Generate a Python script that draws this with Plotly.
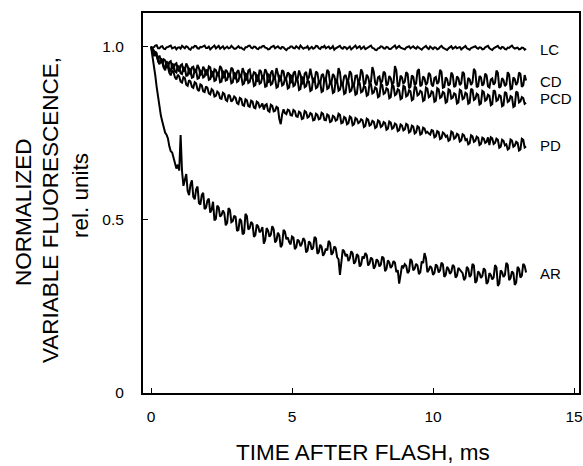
import plotly.graph_objects as go

# ---------------- data ----------------
TIME_MS = [
    0.00, 0.05, 0.10, 0.15, 0.20, 0.25, 0.30, 0.35, 0.40, 0.45, 0.50, 0.55, 0.60, 0.65, 0.70, 0.75, 0.80, 0.85, 0.90, 0.95,
    1.00, 1.05, 1.10, 1.15, 1.20, 1.25, 1.30, 1.35, 1.40, 1.45, 1.50, 1.55, 1.60, 1.65, 1.70, 1.75, 1.80, 1.85, 1.90, 1.95,
    2.00, 2.05, 2.10, 2.15, 2.20, 2.25, 2.30, 2.35, 2.40, 2.45, 2.50, 2.55, 2.60, 2.65, 2.70, 2.75, 2.80, 2.85, 2.90, 2.95,
    3.00, 3.05, 3.10, 3.15, 3.20, 3.25, 3.30, 3.35, 3.40, 3.45, 3.50, 3.55, 3.60, 3.65, 3.70, 3.75, 3.80, 3.85, 3.90, 3.95,
    4.00, 4.05, 4.10, 4.15, 4.20, 4.25, 4.30, 4.35, 4.40, 4.45, 4.50, 4.55, 4.60, 4.65, 4.70, 4.75, 4.80, 4.85, 4.90, 4.95,
    5.00, 5.05, 5.10, 5.15, 5.20, 5.25, 5.30, 5.35, 5.40, 5.45, 5.50, 5.55, 5.60, 5.65, 5.70, 5.75, 5.80, 5.85, 5.90, 5.95,
    6.00, 6.05, 6.10, 6.15, 6.20, 6.25, 6.30, 6.35, 6.40, 6.45, 6.50, 6.55, 6.60, 6.65, 6.70, 6.75, 6.80, 6.85, 6.90, 6.95,
    7.00, 7.05, 7.10, 7.15, 7.20, 7.25, 7.30, 7.35, 7.40, 7.45, 7.50, 7.55, 7.60, 7.65, 7.70, 7.75, 7.80, 7.85, 7.90, 7.95,
    8.00, 8.05, 8.10, 8.15, 8.20, 8.25, 8.30, 8.35, 8.40, 8.45, 8.50, 8.55, 8.60, 8.65, 8.70, 8.75, 8.80, 8.85, 8.90, 8.95,
    9.00, 9.05, 9.10, 9.15, 9.20, 9.25, 9.30, 9.35, 9.40, 9.45, 9.50, 9.55, 9.60, 9.65, 9.70, 9.75, 9.80, 9.85, 9.90, 9.95,
    10.00, 10.05, 10.10, 10.15, 10.20, 10.25, 10.30, 10.35, 10.40, 10.45, 10.50, 10.55, 10.60, 10.65, 10.70, 10.75, 10.80, 10.85, 10.90, 10.95,
    11.00, 11.05, 11.10, 11.15, 11.20, 11.25, 11.30, 11.35, 11.40, 11.45, 11.50, 11.55, 11.60, 11.65, 11.70, 11.75, 11.80, 11.85, 11.90, 11.95,
    12.00, 12.05, 12.10, 12.15, 12.20, 12.25, 12.30, 12.35, 12.40, 12.45, 12.50, 12.55, 12.60, 12.65, 12.70, 12.75, 12.80, 12.85, 12.90, 12.95,
    13.00, 13.05, 13.10, 13.15, 13.20, 13.25, 13.30,
]

LC = [
    1.000, 0.996, 0.998, 1.003, 1.004, 0.995, 0.995, 1.000, 1.001, 0.994, 0.993, 0.998, 0.999, 1.002, 1.003, 0.995, 0.996, 0.999, 0.992, 0.997,
    0.998, 0.994, 1.002, 0.997, 0.995, 1.001, 0.999, 0.993, 0.991, 0.998, 0.997, 1.002, 1.001, 0.995, 0.994, 0.999, 0.998, 1.001, 1.003, 0.996,
    0.996, 1.000, 0.992, 0.996, 0.999, 1.003, 0.995, 0.998, 1.002, 0.994, 0.997, 1.001, 0.993, 0.997, 1.000, 0.995, 0.996, 1.002, 0.999, 0.994,
    0.994, 0.999, 1.001, 0.996, 0.997, 0.993, 0.991, 0.998, 0.998, 1.002, 1.003, 0.997, 0.995, 1.000, 0.999, 0.994, 0.993, 0.998, 0.997, 1.001,
    1.002, 0.997, 0.996, 0.992, 0.993, 0.998, 0.999, 1.002, 0.995, 0.999, 1.001, 0.996, 0.994, 0.999, 0.998, 0.993, 0.990, 0.995, 0.996, 1.000,
    1.000, 0.996, 0.995, 1.001, 0.998, 0.994, 1.003, 0.999, 0.994, 0.997, 0.997, 1.001, 0.992, 0.996, 0.999, 0.994, 0.996, 1.002, 1.001, 0.995,
    0.993, 0.999, 0.998, 1.002, 0.995, 0.998, 1.000, 0.994, 0.996, 1.001, 0.991, 0.995, 0.997, 0.999, 1.002, 0.996, 0.994, 0.999, 0.998, 0.993,
    0.996, 1.000, 0.992, 0.995, 0.999, 1.003, 0.995, 0.997, 1.001, 0.993, 0.997, 1.000, 0.993, 0.996, 0.998, 1.002, 1.003, 0.996, 0.995, 0.991,
    0.990, 0.995, 0.996, 1.001, 1.000, 0.995, 0.994, 0.999, 0.998, 0.993, 0.993, 0.997, 0.999, 1.003, 0.995, 0.999, 1.002, 0.997, 0.996, 0.993,
    0.992, 0.997, 0.998, 1.001, 0.995, 0.999, 1.001, 0.996, 0.994, 1.000, 0.997, 0.993, 0.991, 0.996, 0.999, 1.002, 0.996, 0.993, 1.000, 0.997,
    0.993, 0.998, 0.997, 0.992, 0.994, 0.999, 1.002, 0.997, 0.995, 0.992, 0.990, 0.995, 0.998, 1.001, 0.994, 0.997, 1.000, 0.995, 0.996, 0.999,
    0.992, 0.996, 0.999, 1.002, 0.995, 0.992, 0.991, 0.996, 0.998, 1.000, 1.001, 0.996, 0.994, 0.998, 0.997, 0.992, 0.993, 0.998, 0.999, 1.002,
    0.995, 0.991, 0.990, 0.995, 0.997, 1.001, 1.002, 0.996, 0.994, 0.999, 0.998, 0.993, 0.992, 0.997, 0.996, 1.000, 1.003, 0.997, 0.994, 0.996,
    0.997, 0.992, 0.993, 0.997, 0.996, 0.991, 0.994,
]

CD = [
    1.000, 0.994, 0.989, 0.978, 0.971, 0.966, 0.974, 0.958, 0.952, 0.963, 0.960, 0.944, 0.941, 0.955, 0.958, 0.939, 0.935, 0.949, 0.952, 0.933,
    0.929, 0.946, 0.949, 0.928, 0.932, 0.951, 0.943, 0.924, 0.921, 0.940, 0.942, 0.926, 0.929, 0.947, 0.938, 0.918, 0.921, 0.942, 0.935, 0.917,
    0.924, 0.943, 0.940, 0.913, 0.916, 0.935, 0.932, 0.917, 0.921, 0.944, 0.937, 0.910, 0.912, 0.933, 0.928, 0.914, 0.918, 0.939, 0.935, 0.909,
    0.908, 0.927, 0.932, 0.912, 0.916, 0.938, 0.926, 0.903, 0.906, 0.931, 0.934, 0.911, 0.913, 0.926, 0.924, 0.899, 0.903, 0.933, 0.928, 0.907,
    0.914, 0.935, 0.926, 0.897, 0.899, 0.924, 0.931, 0.908, 0.911, 0.938, 0.922, 0.901, 0.904, 0.932, 0.928, 0.903, 0.909, 0.925, 0.921, 0.896,
    0.898, 0.923, 0.929, 0.905, 0.907, 0.931, 0.919, 0.892, 0.895, 0.922, 0.927, 0.904, 0.911, 0.936, 0.916, 0.897, 0.901, 0.928, 0.924, 0.899,
    0.893, 0.917, 0.921, 0.899, 0.906, 0.933, 0.928, 0.893, 0.897, 0.921, 0.915, 0.894, 0.902, 0.938, 0.926, 0.889, 0.891, 0.914, 0.918, 0.901,
    0.904, 0.929, 0.922, 0.886, 0.889, 0.916, 0.917, 0.897, 0.903, 0.934, 0.925, 0.891, 0.894, 0.919, 0.912, 0.893, 0.899, 0.941, 0.927, 0.895,
    0.888, 0.911, 0.914, 0.893, 0.901, 0.928, 0.923, 0.887, 0.892, 0.915, 0.909, 0.890, 0.896, 0.944, 0.931, 0.884, 0.887, 0.916, 0.911, 0.893,
    0.899, 0.926, 0.921, 0.880, 0.884, 0.917, 0.913, 0.888, 0.894, 0.929, 0.935, 0.886, 0.889, 0.914, 0.908, 0.889, 0.896, 0.924, 0.919, 0.891,
    0.885, 0.909, 0.912, 0.892, 0.898, 0.933, 0.927, 0.881, 0.883, 0.911, 0.906, 0.887, 0.892, 0.925, 0.918, 0.883, 0.887, 0.914, 0.909, 0.889,
    0.894, 0.927, 0.922, 0.878, 0.881, 0.910, 0.905, 0.889, 0.897, 0.936, 0.929, 0.883, 0.886, 0.915, 0.911, 0.887, 0.893, 0.922, 0.917, 0.885,
    0.882, 0.905, 0.908, 0.890, 0.896, 0.931, 0.924, 0.881, 0.885, 0.909, 0.903, 0.886, 0.891, 0.926, 0.919, 0.877, 0.879, 0.911, 0.906, 0.889,
    0.897, 0.925, 0.921, 0.884, 0.888, 0.918, 0.902,
]

PCD = [
    1.000, 0.983, 0.972, 0.986, 0.981, 0.957, 0.949, 0.966, 0.962, 0.941, 0.938, 0.957, 0.953, 0.933, 0.929, 0.951, 0.947, 0.928, 0.925, 0.944,
    0.942, 0.923, 0.921, 0.940, 0.938, 0.916, 0.917, 0.937, 0.934, 0.910, 0.912, 0.935, 0.931, 0.907, 0.909, 0.931, 0.928, 0.911, 0.914, 0.933,
    0.929, 0.904, 0.906, 0.928, 0.925, 0.901, 0.903, 0.926, 0.921, 0.897, 0.899, 0.929, 0.926, 0.902, 0.904, 0.923, 0.918, 0.894, 0.897, 0.925,
    0.921, 0.898, 0.901, 0.919, 0.916, 0.891, 0.894, 0.922, 0.919, 0.895, 0.898, 0.916, 0.912, 0.886, 0.889, 0.918, 0.915, 0.893, 0.896, 0.914,
    0.911, 0.884, 0.886, 0.920, 0.917, 0.890, 0.893, 0.911, 0.908, 0.881, 0.884, 0.916, 0.913, 0.888, 0.891, 0.907, 0.904, 0.879, 0.882, 0.917,
    0.914, 0.886, 0.889, 0.906, 0.903, 0.875, 0.878, 0.912, 0.909, 0.883, 0.886, 0.902, 0.899, 0.872, 0.875, 0.908, 0.905, 0.880, 0.883, 0.900,
    0.897, 0.869, 0.872, 0.909, 0.906, 0.878, 0.881, 0.897, 0.894, 0.866, 0.869, 0.904, 0.901, 0.873, 0.876, 0.894, 0.891, 0.863, 0.866, 0.901,
    0.898, 0.870, 0.873, 0.890, 0.887, 0.861, 0.864, 0.898, 0.895, 0.868, 0.871, 0.886, 0.883, 0.858, 0.861, 0.895, 0.892, 0.865, 0.868, 0.882,
    0.879, 0.854, 0.857, 0.892, 0.889, 0.863, 0.866, 0.880, 0.877, 0.851, 0.854, 0.889, 0.886, 0.860, 0.863, 0.877, 0.874, 0.848, 0.851, 0.887,
    0.884, 0.856, 0.859, 0.874, 0.871, 0.845, 0.848, 0.885, 0.882, 0.859, 0.862, 0.872, 0.869, 0.843, 0.846, 0.882, 0.879, 0.854, 0.857, 0.871,
    0.868, 0.841, 0.844, 0.880, 0.877, 0.852, 0.855, 0.869, 0.866, 0.838, 0.841, 0.877, 0.874, 0.850, 0.853, 0.865, 0.862, 0.836, 0.839, 0.875,
    0.872, 0.848, 0.851, 0.867, 0.864, 0.835, 0.838, 0.878, 0.875, 0.846, 0.849, 0.864, 0.861, 0.833, 0.836, 0.872, 0.869, 0.844, 0.847, 0.861,
    0.858, 0.831, 0.834, 0.874, 0.871, 0.843, 0.846, 0.860, 0.857, 0.828, 0.831, 0.869, 0.866, 0.840, 0.843, 0.857, 0.854, 0.826, 0.829, 0.870,
    0.867, 0.839, 0.842, 0.854, 0.851, 0.835, 0.838,
]

PD = [
    1.000, 0.988, 0.979, 0.982, 0.974, 0.960, 0.951, 0.962, 0.955, 0.939, 0.932, 0.945, 0.941, 0.924, 0.917, 0.931, 0.926, 0.911, 0.905, 0.919,
    0.914, 0.899, 0.896, 0.912, 0.909, 0.890, 0.887, 0.903, 0.899, 0.884, 0.881, 0.897, 0.894, 0.876, 0.872, 0.891, 0.888, 0.871, 0.869, 0.885,
    0.881, 0.865, 0.862, 0.877, 0.873, 0.856, 0.858, 0.870, 0.866, 0.851, 0.849, 0.867, 0.864, 0.846, 0.843, 0.861, 0.857, 0.841, 0.846, 0.856,
    0.852, 0.837, 0.834, 0.852, 0.849, 0.831, 0.829, 0.848, 0.845, 0.828, 0.826, 0.844, 0.841, 0.824, 0.822, 0.841, 0.838, 0.825, 0.829, 0.836,
    0.818, 0.831, 0.834, 0.815, 0.812, 0.832, 0.829, 0.813, 0.815, 0.826, 0.823, 0.791, 0.776, 0.804, 0.819, 0.808, 0.805, 0.818, 0.816, 0.802,
    0.801, 0.817, 0.814, 0.799, 0.797, 0.812, 0.809, 0.791, 0.793, 0.814, 0.811, 0.795, 0.798, 0.808, 0.805, 0.787, 0.789, 0.806, 0.803, 0.790,
    0.792, 0.809, 0.806, 0.788, 0.787, 0.804, 0.801, 0.782, 0.784, 0.800, 0.797, 0.786, 0.789, 0.806, 0.803, 0.779, 0.781, 0.797, 0.794, 0.776,
    0.779, 0.798, 0.795, 0.773, 0.776, 0.794, 0.791, 0.779, 0.782, 0.790, 0.787, 0.768, 0.771, 0.792, 0.789, 0.772, 0.775, 0.786, 0.783, 0.765,
    0.768, 0.787, 0.784, 0.768, 0.771, 0.782, 0.779, 0.760, 0.763, 0.784, 0.781, 0.763, 0.766, 0.778, 0.775, 0.756, 0.759, 0.775, 0.772, 0.758,
    0.761, 0.777, 0.774, 0.752, 0.755, 0.772, 0.769, 0.749, 0.752, 0.770, 0.767, 0.746, 0.749, 0.766, 0.763, 0.751, 0.754, 0.749, 0.746, 0.759,
    0.757, 0.738, 0.741, 0.756, 0.753, 0.733, 0.736, 0.752, 0.749, 0.740, 0.743, 0.728, 0.731, 0.755, 0.752, 0.734, 0.737, 0.748, 0.745, 0.726,
    0.729, 0.747, 0.744, 0.730, 0.733, 0.718, 0.721, 0.744, 0.741, 0.725, 0.728, 0.740, 0.737, 0.716, 0.719, 0.737, 0.734, 0.722, 0.725, 0.738,
    0.716, 0.738, 0.735, 0.719, 0.722, 0.734, 0.731, 0.708, 0.711, 0.731, 0.728, 0.715, 0.718, 0.703, 0.706, 0.732, 0.729, 0.711, 0.714, 0.725,
    0.722, 0.700, 0.703, 0.734, 0.731, 0.709, 0.712,
]

AR = [
    1.000, 0.975, 0.948, 0.918, 0.884, 0.851, 0.818, 0.801, 0.784, 0.769, 0.752, 0.746, 0.735, 0.712, 0.698, 0.694, 0.681, 0.662, 0.648, 0.659,
    0.642, 0.745, 0.640, 0.598, 0.616, 0.632, 0.583, 0.571, 0.602, 0.614, 0.566, 0.559, 0.588, 0.596, 0.548, 0.544, 0.571, 0.578, 0.531, 0.535,
    0.555, 0.561, 0.521, 0.529, 0.552, 0.498, 0.503, 0.541, 0.536, 0.509, 0.514, 0.527, 0.519, 0.484, 0.491, 0.534, 0.528, 0.493, 0.496, 0.512,
    0.508, 0.468, 0.471, 0.503, 0.497, 0.458, 0.462, 0.517, 0.511, 0.472, 0.476, 0.494, 0.488, 0.451, 0.456, 0.486, 0.481, 0.464, 0.469, 0.479,
    0.431, 0.442, 0.476, 0.469, 0.451, 0.457, 0.482, 0.473, 0.435, 0.441, 0.463, 0.455, 0.421, 0.428, 0.471, 0.466, 0.444, 0.449, 0.436, 0.429,
    0.452, 0.449, 0.415, 0.421, 0.443, 0.438, 0.424, 0.431, 0.447, 0.441, 0.406, 0.411, 0.438, 0.433, 0.414, 0.419, 0.451, 0.446, 0.402, 0.407,
    0.428, 0.422, 0.396, 0.403, 0.417, 0.412, 0.439, 0.433, 0.399, 0.405, 0.423, 0.418, 0.392, 0.386, 0.341, 0.372, 0.414, 0.409, 0.395, 0.401,
    0.381, 0.389, 0.409, 0.403, 0.373, 0.379, 0.401, 0.396, 0.365, 0.371, 0.394, 0.388, 0.404, 0.398, 0.368, 0.374, 0.391, 0.386, 0.359, 0.366,
    0.386, 0.381, 0.365, 0.371, 0.394, 0.389, 0.352, 0.358, 0.383, 0.377, 0.361, 0.367, 0.381, 0.376, 0.349, 0.355, 0.316, 0.341, 0.368, 0.363,
    0.372, 0.367, 0.346, 0.352, 0.387, 0.381, 0.354, 0.359, 0.373, 0.368, 0.343, 0.349, 0.380, 0.375, 0.404, 0.389, 0.349, 0.355, 0.366, 0.361,
    0.341, 0.347, 0.371, 0.366, 0.348, 0.354, 0.376, 0.371, 0.335, 0.341, 0.364, 0.358, 0.344, 0.350, 0.370, 0.365, 0.333, 0.339, 0.361, 0.356,
    0.351, 0.346, 0.326, 0.332, 0.364, 0.358, 0.335, 0.341, 0.373, 0.368, 0.318, 0.324, 0.351, 0.346, 0.332, 0.338, 0.360, 0.355, 0.315, 0.321,
    0.346, 0.341, 0.328, 0.334, 0.369, 0.363, 0.309, 0.316, 0.354, 0.349, 0.335, 0.341, 0.376, 0.370, 0.326, 0.332, 0.351, 0.346, 0.312, 0.319,
    0.364, 0.358, 0.333, 0.339, 0.373, 0.367, 0.348,
]

SERIES_NAMES = ["LC", "CD", "PCD", "PD", "AR"]
SERIES_VALUES = [LC, CD, PCD, PD, AR]
LABEL_Y = [0.9925, 0.899, 0.851, 0.7135, 0.344]
LABEL_X = 13.72

X_TICKS = [0, 5, 10, 15]
X_TICK_TEXT = ["0", "5", "10", "15"]
Y_TICKS = [0, 0.5, 1.0]
Y_TICK_TEXT = ["0", "0.5", "1.0"]

# ---------------- figure ----------------
W, H = 583, 466
L, R, T, B = 143, 4, 13, 73
PW, PH = W - L - R, H - T - B


def px_x(px):
    return (px - L) / PW


def px_y(py):
    return (H - B - py) / PH


FONT = "Liberation Sans, Arial, Helvetica, sans-serif"

fig = go.Figure()
for name, vals in zip(SERIES_NAMES, SERIES_VALUES):
    fig.add_trace(go.Scatter(x=TIME_MS, y=vals, mode="lines", name=name,
                             line=dict(color="black", width=2),
                             showlegend=False, hoverinfo="skip"))

for name, ly in zip(SERIES_NAMES, LABEL_Y):
    fig.add_annotation(x=LABEL_X, y=ly, xref="x", yref="y", text=name,
                       showarrow=False, xanchor="left", yanchor="middle",
                       font=dict(family=FONT, size=15, color="black"))

# axis titles
fig.add_annotation(x=px_x(363), y=px_y(452), xref="paper", yref="paper",
                   text="TIME AFTER FLASH, ms", showarrow=False,
                   xanchor="center", yanchor="middle",
                   font=dict(family=FONT, size=22.5, color="black"))
for txt, cx, cy in [("NORMALIZED", 23, 212),
                    ("VARIABLE FLUORESCENCE,", 51, 210),
                    ("rel. units", 80, 196)]:
    fig.add_annotation(x=px_x(cx), y=px_y(cy), xref="paper", yref="paper",
                       text=txt, showarrow=False, textangle=-90,
                       xanchor="center", yanchor="middle",
                       font=dict(family=FONT, size=22.5, color="black"))

axis_common = dict(showline=True, linecolor="black", linewidth=2, mirror=True,
                   ticks="inside", ticklen=5, tickwidth=1, tickcolor="black",
                   showgrid=False, zeroline=False,
                   tickfont=dict(family=FONT, size=15.5, color="black"))

fig.update_xaxes(range=[-0.284, 15.177], tickmode="array", tickvals=X_TICKS,
                 ticktext=X_TICK_TEXT, ticklabelstandoff=8, **axis_common)
fig.update_yaxes(range=[0, 1.097], tickmode="array", tickvals=Y_TICKS,
                 ticktext=Y_TICK_TEXT, ticklabelstandoff=14, **axis_common)

fig.update_layout(width=W, height=H, margin=dict(l=L, r=R, t=T, b=B, autoexpand=False),
                  paper_bgcolor="white", plot_bgcolor="white",
                  font=dict(family=FONT, color="black"))

# remove the browser's default 8px page margin so the figure fills the window exactly
fig.write_html("out.html",
               config={"displayModeBar": False},
               post_script="document.body.style.margin='0';document.body.style.overflow='hidden';")
